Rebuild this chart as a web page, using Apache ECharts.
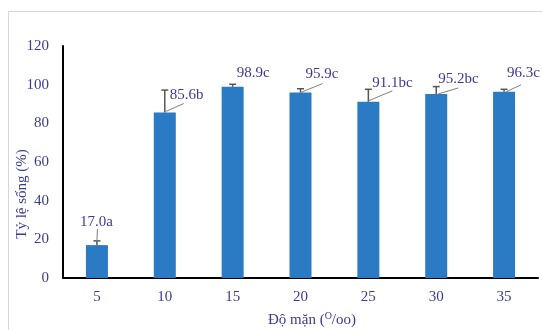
<!DOCTYPE html>
<html>
<head>
<meta charset="utf-8">
<script src="https://cdn.jsdelivr.net/npm/echarts@6/dist/echarts.min.js"></script>
<style>
  html, body { margin: 0; padding: 0; background: #fff; }
  #chart { width: 542px; height: 330px; }
</style>
</head>
<body>
<div id="chart"></div>
<script>
// Survival rate by salinity level
var salinity = ['5', '10', '15', '20', '25', '30', '35'];
var survival = [17.0, 85.6, 98.9, 95.9, 91.1, 95.2, 96.3];
var errorUp = [2.2, 11.6, 1.3, 2.0, 6.5, 3.8, 1.3];
var groups = ['a', 'b', 'c', 'c', 'bc', 'bc', 'c'];
var yTicks = [0, 20, 40, 60, 80, 100, 120];

// label placement relative to the bar top: [dx, dy] of the text's left/middle
var labelOffset = [[-17, -23], [5, -17], [4, -14], [5, -19], [4, -19], [2, -15], [3, -19]];
// leader line relative to the bar top: [x0, y0, x1, y1], null = none
var leaderOffset = [[0, -4, 0.5, -16], [1, -1, 19, -9], null, [0, 0, 22, -9], [0, -1, 24, -11], [2, 0, 22, -6], [2, 0, 17, -7]];

var textColor = '#3b3b94';
var serif = '"Liberation Serif", "DejaVu Serif", serif';

var chart = echarts.init(document.getElementById('chart'), null, { renderer: 'canvas' });

chart.setOption({
  animation: false,
  backgroundColor: '#fff',
  grid: { left: 63, top: 46, right: 4, bottom: 52, containLabel: false },
  xAxis: {
    type: 'category',
    data: salinity,
    boundaryGap: true,
    axisLine: { lineStyle: { color: '#000', width: 2 } },
    axisTick: { show: false },
    axisLabel: { color: textColor, fontFamily: serif, fontSize: 15, margin: 12 },
    splitLine: { show: false }
  },
  yAxis: {
    type: 'value',
    min: yTicks[0],
    max: yTicks[yTicks.length - 1],
    interval: yTicks[1] - yTicks[0],
    axisLine: { show: true, lineStyle: { color: '#000', width: 2 } },
    axisTick: { show: false },
    axisLabel: { color: textColor, fontFamily: serif, fontSize: 15, margin: 14 },
    splitLine: { show: false }
  },
  graphic: [
    {
      type: 'rect',
      shape: { x: 8.5, y: 11.5, width: 600, height: 400 },
      style: { fill: 'none', stroke: '#d6d6d6', lineWidth: 1 },
      silent: true,
      z: -1
    },
    {
      type: 'text',
      x: 22, y: 194,
      rotation: Math.PI / 2,
      style: {
        text: 'Tỷ lệ sống (%)',
        fill: textColor,
        font: '15px ' + serif,
        align: 'center',
        verticalAlign: 'middle'
      }
    },
    {
      type: 'text',
      x: 312, y: 320,
      style: {
        text: 'Độ mặn ({sup|O}/oo)',
        fill: textColor,
        font: '15px ' + serif,
        align: 'center',
        verticalAlign: 'middle',
        rich: {
          sup: { fontSize: 10, fontFamily: serif, fill: textColor, padding: [0, 0, 7, 0] }
        }
      }
    }
  ],
  series: [
    {
      type: 'bar',
      data: survival,
      barWidth: 22,
      itemStyle: { color: '#2a7bc4' },
      z: 2
    },
    {
      type: 'custom',
      z: 3,
      data: survival.map(function (v, i) { return [i, v, errorUp[i]]; }),
      renderItem: function (params, api) {
        var i = api.value(0);
        var v = api.value(1);
        var e = api.value(2);
        var p = api.coord([i, v]);
        var pe = api.coord([i, v + e]);
        var children = [
          {
            type: 'line',
            shape: { x1: p[0], y1: p[1], x2: pe[0], y2: pe[1] },
            style: { stroke: '#555', lineWidth: 1.5 }
          },
          {
            type: 'line',
            shape: { x1: pe[0] - 3.5, y1: pe[1], x2: pe[0] + 3.5, y2: pe[1] },
            style: { stroke: '#555', lineWidth: 1.5 }
          }
        ];
        var lo = leaderOffset[i];
        if (lo) {
          children.push({
            type: 'line',
            shape: { x1: p[0] + lo[0], y1: p[1] + lo[1], x2: p[0] + lo[2], y2: p[1] + lo[3] },
            style: { stroke: '#808080', lineWidth: 1 }
          });
        }
        var off = labelOffset[i];
        children.push({
          type: 'text',
          x: p[0] + off[0],
          y: p[1] + off[1],
          style: {
            text: survival[i].toFixed(1) + groups[i],
            fill: textColor,
            font: '15px ' + serif,
            align: 'left',
            verticalAlign: 'middle'
          }
        });
        return { type: 'group', children: children };
      }
    }
  ]
});
</script>
</body>
</html>
